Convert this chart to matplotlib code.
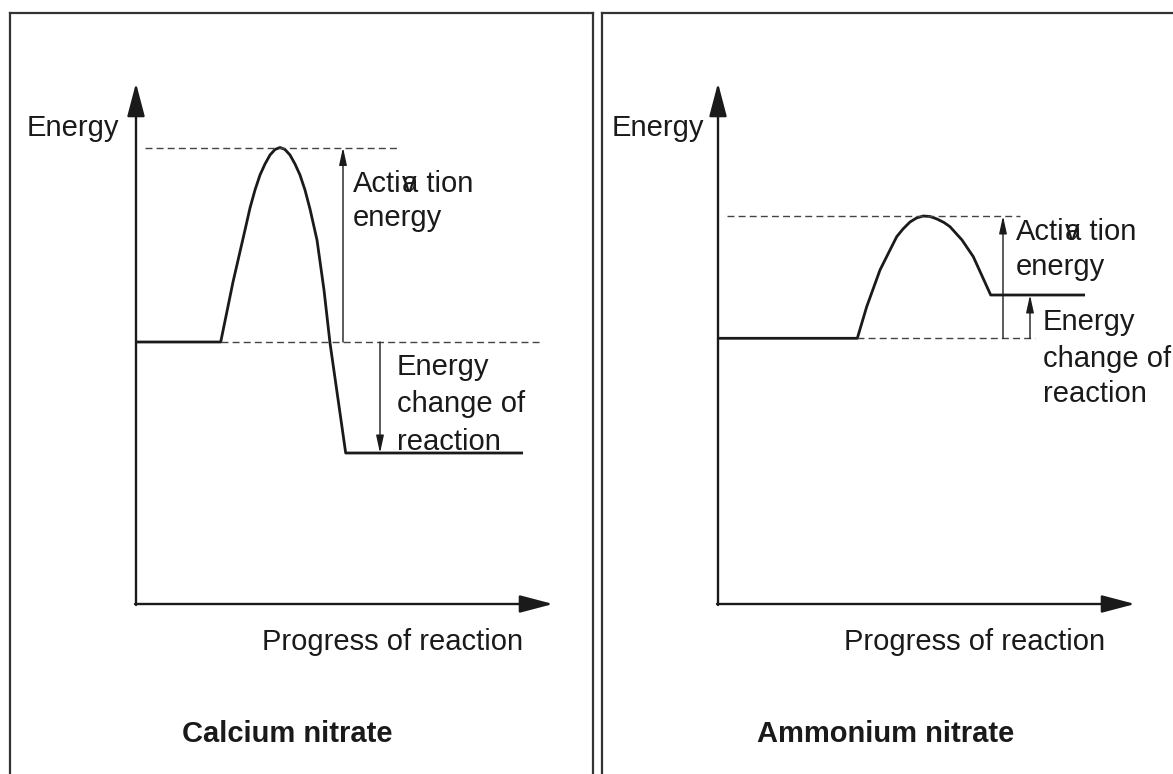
import matplotlib
matplotlib.use("Agg")
import matplotlib.pyplot as plt

plt.rcParams["font.family"] = ["Liberation Sans", "DejaVu Sans"]

# ---------------------------------------------------------------
# Données (unités arbitraires, origine = coin des axes)
# ---------------------------------------------------------------
titles = ["Calcium nitrate", "Ammonium nitrate"]

# Calcium nitrate : exothermique
left_progress = [0, 8.47, 9.7, 10.9, 11.4, 11.9, 12.4, 12.9, 13.4, 13.9,
                 14.4, 14.9, 15.4, 15.9, 16.4, 16.9, 17.4, 18.1, 18.8,
                 19.4, 20.4, 20.97, 38.7]
left_energy = [26.2, 26.2, 32.2, 37.4, 39.6, 41.4, 42.9, 44.0, 44.9, 45.45,
               45.65, 45.45, 44.9, 44.0, 42.9, 41.4, 39.5, 36.4, 31.4,
               26.1, 19.1, 15.1, 15.1]

# Ammonium nitrate : endothermique
right_progress = [0, 13.93, 14.87, 16.2, 17.1, 17.87, 18.5, 19.2, 19.85,
                  20.53, 21.2, 21.9, 22.6, 23.2, 24.4, 25.53, 27.27, 36.7]
right_energy = [26.57, 26.57, 29.73, 33.4, 35.2, 36.73, 37.5, 38.2, 38.6,
                38.8, 38.75, 38.5, 38.15, 37.73, 36.4, 34.73, 30.9, 30.9]

# niveaux : réactifs, sommet, produits
left_levels = [26.2, 45.65, 15.1]
right_levels = [26.57, 38.8, 30.9]

# pointillés : (x début, x fin) pour sommet et réactifs
left_dash = [(0.9, 26.1), (8.5, 40.4)]
right_dash = [(0.9, 30.2), (13.9, 31.7)]

# position x des flèches : énergie d'activation, variation d'énergie
left_arrow_x = [20.7, 24.4]
right_arrow_x = [28.5, 31.2]

act_lines = ["Acti", "a tion", "v", "energy"]
change_lines = ["Energy", "change of", "reaction"]
x_label = "Progress of reaction"
y_label = "Energy"

INK = "#1a1a1a"
FS = 21


def thin_arrow(ax, x, y0, y1):
    ax.annotate("", xy=(x, y1), xytext=(x, y0),
                arrowprops=dict(arrowstyle="-|>,head_length=10.5,head_width=2.3",
                                mutation_scale=1, lw=1.0, color=INK,
                                shrinkA=0, shrinkB=0))


def draw_panel(ax, progress, energy, levels, dash, arrow_x,
               act_pos, change_pos, title, xlim, ylab_x):
    ax.set_xlim(*xlim)
    ax.set_ylim(-17.0, 59.1)
    ax.set_xticks([])
    ax.set_yticks([])
    for side in ["top", "left", "right"]:
        ax.spines[side].set_linewidth(1.6)
        ax.spines[side].set_color("#333333")
    ax.spines["bottom"].set_visible(False)

    # axes fléchés
    big = dict(arrowstyle="-|>,head_length=20.5,head_width=5.4",
               mutation_scale=1, lw=1.7, color=INK, shrinkA=0, shrinkB=0)
    ax.annotate("", xy=(0, 52.1), xytext=(0, -0.1), arrowprops=big)
    ax.annotate("", xy=(41.7, 0), xytext=(-0.1, 0), arrowprops=big)

    # courbe
    ax.plot(progress, energy, color=INK, lw=2.0, solid_joinstyle="round",
            solid_capstyle="butt")

    # pointillés
    react, peak, prod = levels
    ax.plot(dash[0], [peak, peak], color="#444444", lw=1.0, ls=(0, (5, 3)))
    ax.plot(dash[1], [react, react], color="#444444", lw=1.0, ls=(0, (5, 3)))

    # flèches
    thin_arrow(ax, arrow_x[0], react, peak)
    thin_arrow(ax, arrow_x[1], react, prod)

    # textes
    ax.text(ylab_x, 47.6, y_label, fontsize=FS, color=INK,
            ha="left", va="center")

    ax_, y0, y1 = act_pos
    t1 = ax.text(ax_, y0, act_lines[0], fontsize=FS, color=INK,
                 ha="left", va="baseline")
    ax.annotate(act_lines[1], xy=(1, 0), xycoords=t1, fontsize=FS, color=INK,
                ha="left", va="bottom", annotation_clip=False)
    ax.annotate(act_lines[2], xy=(1, 0), xycoords=t1, fontsize=FS, color=INK,
                ha="left", va="bottom", annotation_clip=False)
    ax.text(ax_, y1, act_lines[3], fontsize=FS, color=INK,
            ha="left", va="baseline")

    cx, cys = change_pos
    for line, cy in zip(change_lines, cys):
        ax.text(cx, cy, line, fontsize=FS, color=INK, ha="left", va="baseline")

    ax.text(12.65, -4.6, x_label, fontsize=FS, color=INK,
            ha="left", va="baseline")
    ax.text(title[1], -13.8, title[0], fontsize=FS, color=INK,
            fontweight="bold", ha="center", va="baseline")


fig = plt.figure(figsize=(11.73, 7.74), dpi=100)
W, H = 1173.0, 774.0

ax1 = fig.add_axes([10 / W, 0, 583 / W, 761 / H])
ax2 = fig.add_axes([602 / W, 0, 578 / W, 761 / H])

draw_panel(ax1, left_progress, left_energy, left_levels, left_dash,
           left_arrow_x, (21.7, 41.15, 37.75), (26.1, [22.9, 19.2, 15.4]),
           (titles[0], 15.15), (-12.6, 45.7), -10.9)
draw_panel(ax2, right_progress, right_energy, right_levels, right_dash,
           right_arrow_x, (29.8, 36.4, 32.9), (32.5, [27.4, 23.7, 20.2]),
           (titles[1], 16.8), (-11.6, 46.2), -10.6)
ax2.spines["right"].set_visible(False)

fig.savefig("out.png", dpi=100)
